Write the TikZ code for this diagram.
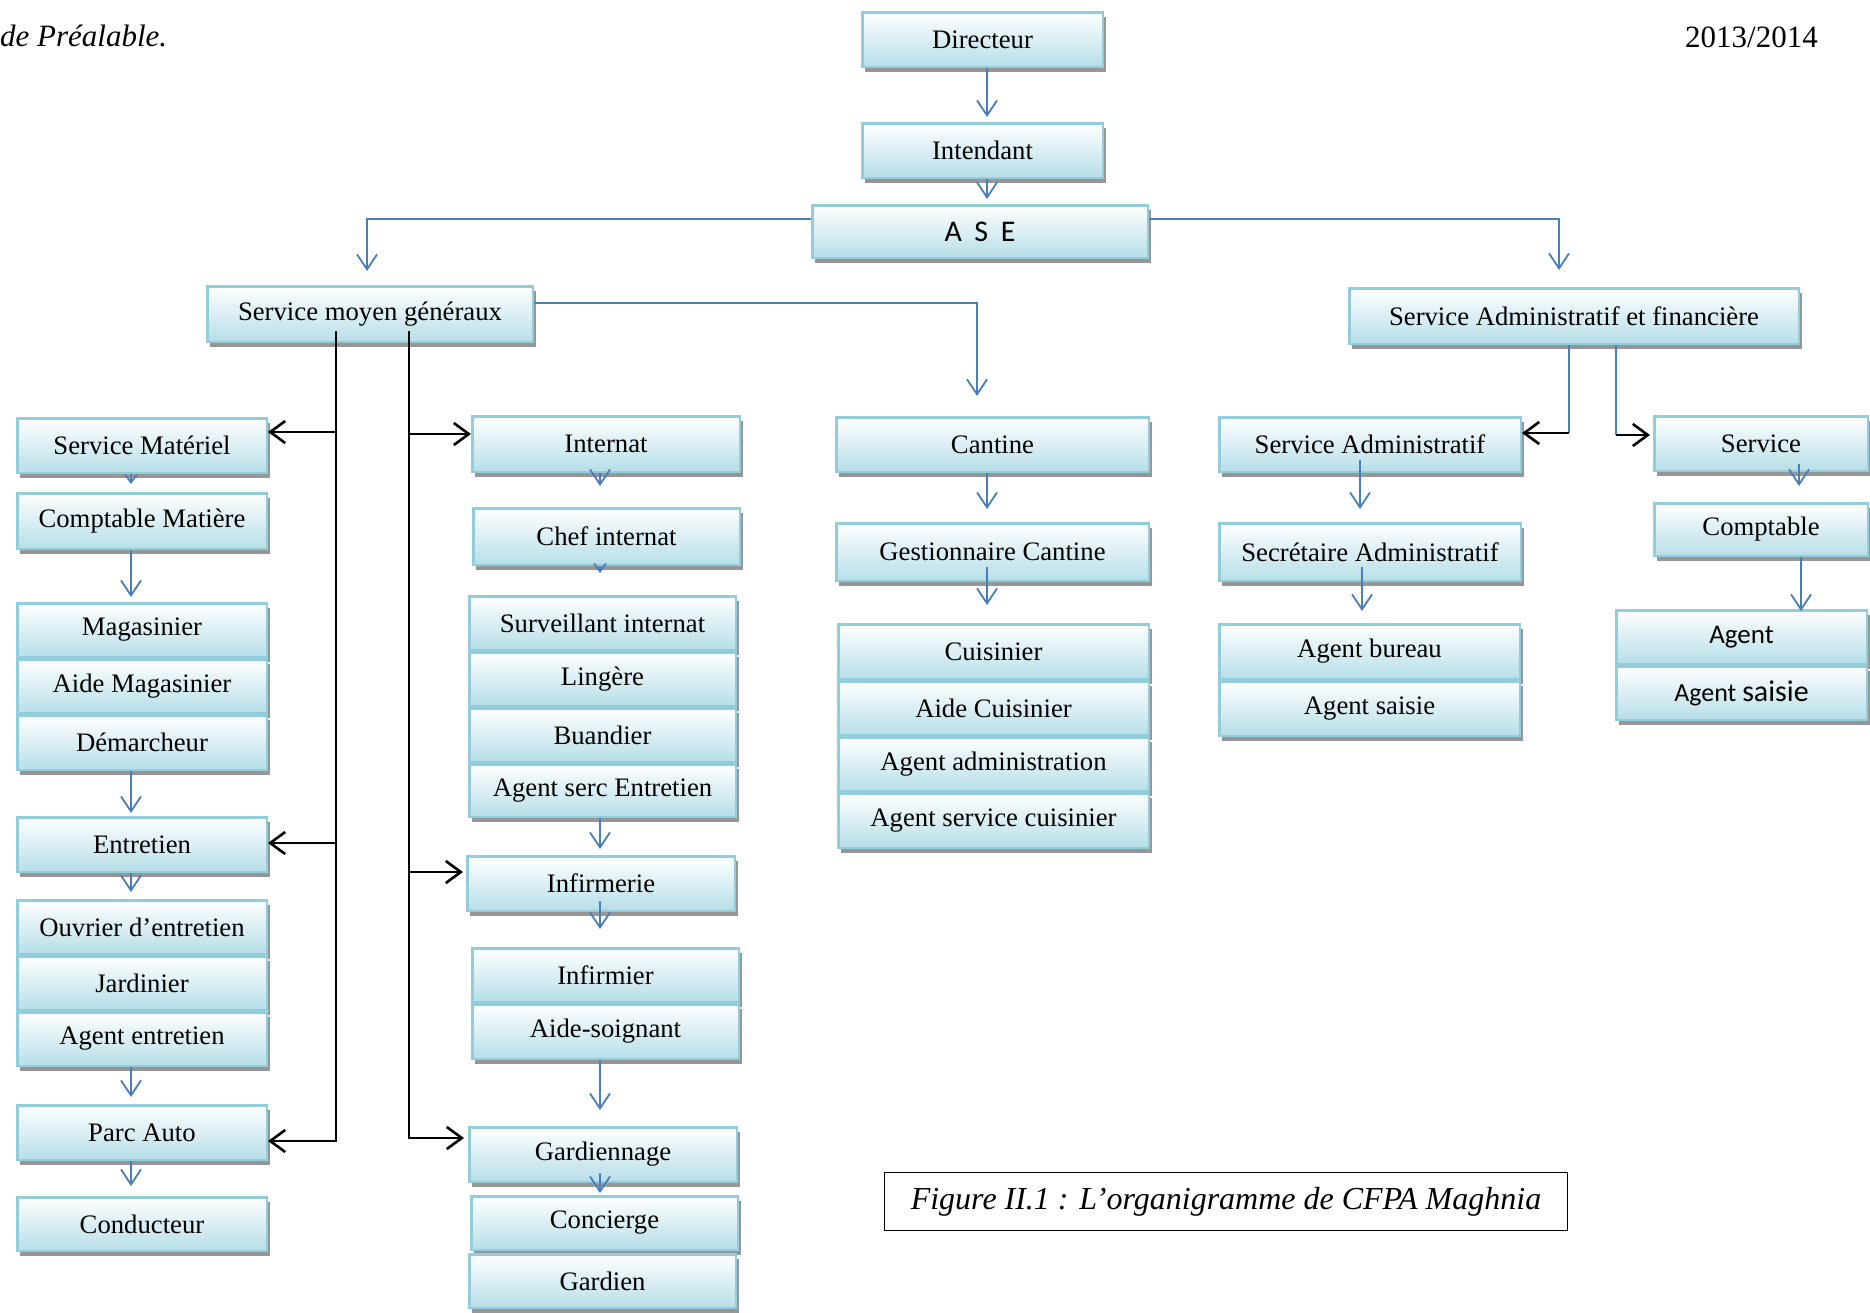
\documentclass[tikz,border=0pt]{standalone}
\usepackage{fontspec}
\setmainfont{Liberation Serif}
\newfontfamily\calibri{Carlito}
\usetikzlibrary{arrows.meta,shadows}

\definecolor{boxedge}{RGB}{146,205,220}
\definecolor{boxfill}{RGB}{183,222,232}
\definecolor{linkblue}{RGB}{74,126,187}
\definecolor{shadowgray}{RGB}{150,150,150}

\newcommand\orgfont{\fontsize{26.7}{32}\selectfont}
% box from its outer corners (x1,y1)-(x2,y2): name, x1, y1, x2, y2, text
\newcommand\obox[6]{\node[orgbox, minimum width={#4-#2-2.5}, minimum height={#5-#3-2.5}] (#1) at ({(#2+#4)/2},{(#3+#5)/2}) {#6};}

\begin{document}
\begin{tikzpicture}[x=1pt,y=-1pt,
  orgbox/.style={draw=boxedge, line width=2.5pt, top color=white, bottom color=boxfill,
    inner sep=0pt, font=\orgfont, text=black,
    drop shadow={shadow xshift=3pt, shadow yshift=-5pt, fill=shadowgray, opacity=1}},
  blink/.style={draw=linkblue, line width=1.8pt},
  barrow/.style={blink, -{Straight Barb[length=15pt,width=20pt]}},
  sbarrow/.style={blink, -{Straight Barb[length=8pt,width=12pt]}},
  kline/.style={draw=black, line width=2.6pt},
  karrow/.style={kline, -{Straight Barb[length=15pt,width=22pt]}}]
\useasboundingbox (0,0) rectangle (1870,1312);
\clip (0,0) rectangle (1870,1312);

% page header
\node[anchor=base west, inner sep=0pt, font=\fontsize{31}{36}\selectfont\itshape] (hdr) at (0,46) {de Préalable.};
\node[anchor=base east, inner sep=0pt, font=\fontsize{31}{36}\selectfont] (year) at (1818,47) {2013/2014};

% top of the hierarchy
\obox{dir}{861}{11}{1104}{68}{Directeur}
\obox{intd}{861}{122}{1104}{179}{Intendant}
\obox{ase}{811}{204}{1149}{259}{{\calibri\fontsize{30}{34}\selectfont A\hspace{0.42em}S\hspace{0.42em}E}}
\obox{smg}{206}{285}{534}{343}{Service moyen généraux}
\obox{saf}{1348}{287}{1800}{345}{Service Administratif et financière}

% left column
\obox{smat}{16}{417}{268}{474}{Service Matériel}
\obox{cmat}{16}{492}{268}{550}{Comptable Matière}
\obox{mag}{16}{602}{268}{658}{Magasinier}
\obox{aidemag}{16}{658}{268}{714}{Aide Magasinier}
\obox{dem}{16}{714}{268}{771}{Démarcheur}
\obox{entr}{16}{816}{268}{873}{Entretien}
\obox{ouvr}{16}{899}{268}{955}{Ouvrier d’entretien}
\obox{jard}{16}{955}{268}{1011}{Jardinier}
\obox{agentr}{16}{1011}{268}{1067}{Agent entretien}
\obox{parc}{16}{1104}{268}{1161}{Parc Auto}
\obox{cond}{16}{1196}{268}{1252}{Conducteur}

% boarding, infirmary and guarding
\obox{inter}{471}{415}{741}{473}{Internat}
\obox{chef}{472}{507}{741}{566}{Chef internat}
\obox{surv}{468}{595}{737}{651}{Surveillant internat}
\obox{ling}{468}{651}{737}{707}{Lingère}
\obox{buan}{468}{707}{737}{763}{Buandier}
\obox{agserc}{468}{763}{737}{818}{Agent serc Entretien}
\obox{infe}{466}{855}{736}{912}{Infirmerie}
\obox{infr}{471}{947}{740}{1003}{Infirmier}
\obox{aides}{471}{1003}{740}{1060}{Aide-soignant}
\obox{gard}{468}{1126}{738}{1183}{Gardiennage}
\obox{conc}{470}{1195}{739}{1251}{Concierge}
\obox{gardn}{468}{1253}{737}{1309}{Gardien}

% canteen
\obox{cant}{835}{416}{1150}{473}{Cantine}
\obox{gest}{835}{522}{1150}{582}{Gestionnaire Cantine}
\obox{cuis}{837}{623}{1150}{680}{Cuisinier}
\obox{aidec}{837}{680}{1150}{736}{Aide Cuisinier}
\obox{agadm}{837}{736}{1150}{792}{Agent administration}
\obox{agserv}{837}{792}{1150}{849}{Agent service cuisinier}

% administrative service
\obox{sadm}{1218}{416}{1522}{473}{Service Administratif}
\obox{secr}{1218}{522}{1522}{582}{Secrétaire Administratif}
\obox{agbur}{1218}{623}{1521}{680}{Agent bureau}
\obox{agsai}{1218}{680}{1521}{737}{Agent saisie}

% accounting service
\obox{serv}{1653}{415}{1869}{472}{Service}
\obox{compt}{1653}{502}{1869}{557}{Comptable}
\obox{agent}{1615}{609}{1868}{665}{{\calibri\fontsize{27}{30}\selectfont Agent}}
\obox{agsais}{1615}{665}{1868}{721}{{\calibri\fontsize{26}{30}\selectfont Agent {\fontsize{30}{30}\selectfont saisie}}}

% caption
\node[draw=black, line width=1.3pt, minimum width=682.7pt, minimum height=57.7pt, inner sep=0pt,
  font=\fontsize{32}{38}\selectfont\itshape] (fig) at (1226,1201.5) {Figure II.1 : L’organigramme de CFPA Maghnia};

% x positions of the vertical links
\coordinate (xa) at (987,0);
\coordinate (xl) at (131,0);
\coordinate (xi) at (600,0);
\coordinate (xs1) at (1360,0);
\coordinate (xs2) at (1362,0);
\coordinate (xc1) at (1799,0);
\coordinate (xc2) at (1801,0);
\coordinate (xg) at (367,0);
\coordinate (xf) at (1559,0);
\coordinate (xk) at (977,0);
\coordinate (ya) at (0,219);
\coordinate (yk) at (0,303);

% blue links of the main chain
\draw[barrow, shorten >=5pt] (dir.south -| xa) -- (intd.north -| xa);
\draw[barrow, shorten >=5pt] (intd.south -| xa) -- (ase.north -| xa);
\draw[barrow, shorten >=14pt] (ase.west |- ya) -| (smg.north -| xg);
\draw[barrow, shorten >=17pt] (ase.east |- ya) -| (saf.north -| xf);
\draw[barrow, shorten >=20pt] (smg.east |- yk) -| (cant.north -| xk);

% left column
\draw[sbarrow, shorten >=8pt] (smat.south -| xl) -- (cmat.north -| xl);
\draw[barrow, shorten >=5pt] (cmat.south -| xl) -- (mag.north -| xl);
\draw[barrow, shorten >=3pt] (dem.south -| xl) -- (entr.north -| xl);
\draw[barrow, shorten >=7pt] (entr.south -| xl) -- (ouvr.north -| xl);
\draw[barrow, shorten >=7pt] (agentr.south -| xl) -- (parc.north -| xl);
\draw[barrow, shorten >=10pt] (parc.south -| xl) -- (cond.north -| xl);

% boarding column
\draw[barrow, shorten >=21pt] (inter.south -| xi) -- (chef.north -| xi);
\draw[sbarrow, shorten >=22pt] (chef.south -| xi) -- (surv.north -| xi);
\draw[barrow, shorten >=6pt] (agserc.south -| xi) -- (infe.north -| xi);
\draw[barrow, shorten <=-11pt, shorten >=18pt] (infe.south -| xi) -- (infr.north -| xi);
\draw[barrow, shorten >=16pt] (aides.south -| xi) -- (gard.north -| xi);
\draw[barrow, shorten <=-10pt, shorten >=2pt] (gard.south -| xi) -- (conc.north -| xi);

% canteen column
\draw[barrow, shorten >=13pt] (cant.south -| xa) -- (gest.north -| xa);
\draw[barrow, shorten <=-15pt, shorten >=18pt] (gest.south -| xa) -- (cuis.north -| xa);

% administrative column
\draw[barrow, shorten <=-13pt, shorten >=13pt] (sadm.south -| xs1) -- (secr.north -| xs1);
\draw[barrow, shorten <=-15pt, shorten >=12pt] (secr.south -| xs2) -- (agbur.north -| xs2);

% accounting column
\draw[barrow, shorten <=-8pt, shorten >=16pt] (serv.south -| xc1) -- (compt.north -| xc1);
\draw[barrow, shorten >=-2pt] (compt.south -| xc2) -- (agent.north -| xc2);

% branches of the administrative and financial service
\coordinate (sa1) at (1569,433);
\coordinate (sa2) at (1616,435);
\draw[blink] (saf.south -| sa1) -- (sa1);
\draw[blink] (saf.south -| sa2) -- (sa2);
\draw[karrow] (sa1) -- (sadm.east |- sa1);
\draw[karrow, shorten >=3pt] (sa2) -- (serv.west |- sa2);

% branches of the general services
\coordinate (v1) at (336,331);
\coordinate (v1end) at (336,1142);
\coordinate (v2) at (409,331);
\coordinate (v2end) at (409,1139);
\draw[kline] (v1) -- (v1end);
\draw[kline] (v2) -- (v2end);
\coordinate (b1) at (336,432);
\coordinate (b2) at (336,843);
\coordinate (b3) at (336,1141);
\draw[karrow] (b1) -- (smat.east |- b1);
\draw[karrow] (b2) -- (entr.east |- b2);
\draw[karrow] (b3) -- (parc.east |- b3);
\coordinate (c1) at (409,434);
\coordinate (c2) at (409,872);
\coordinate (c3) at (409,1138);
\draw[karrow] (c1) -- (inter.west |- c1);
\draw[karrow, shorten >=3pt] (c2) -- (infe.west |- c2);
\draw[karrow, shorten >=4pt] (c3) -- (gard.west |- c3);
\end{tikzpicture}
\end{document}
